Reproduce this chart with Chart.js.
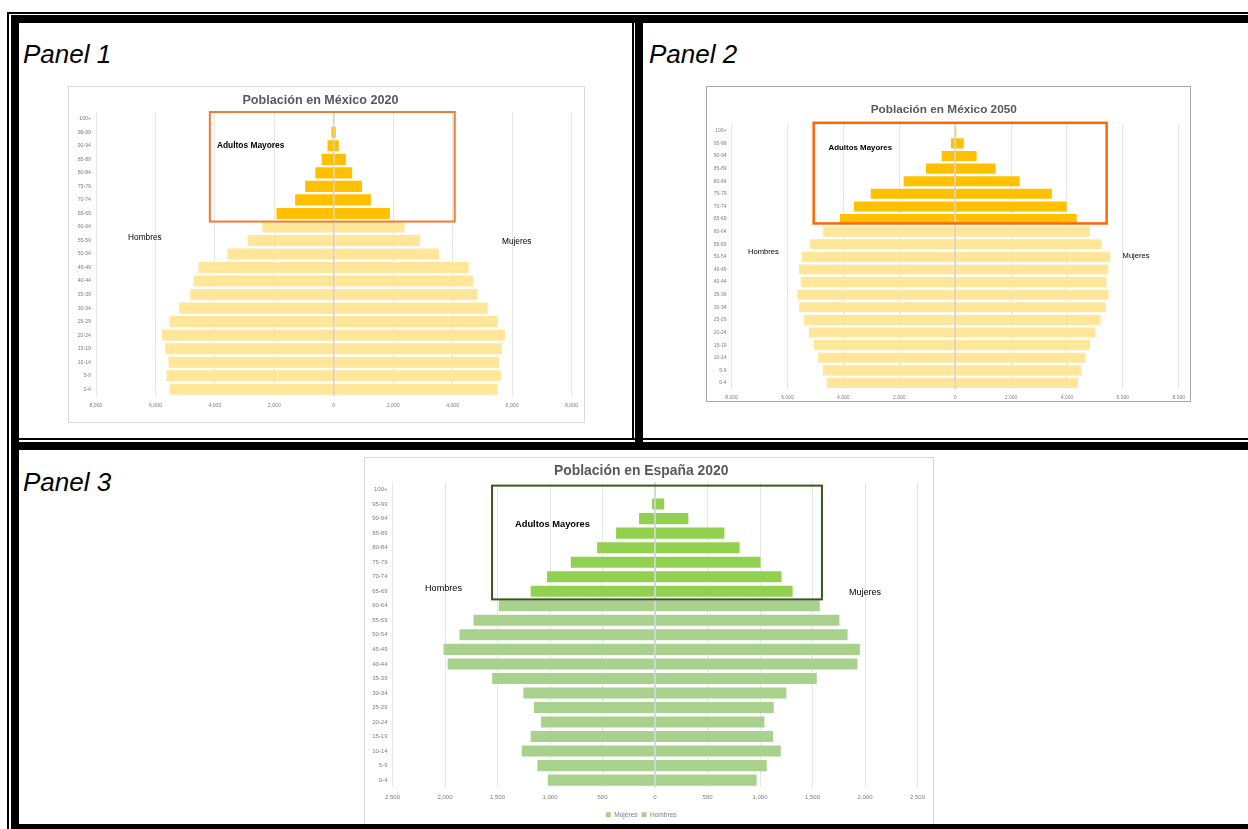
<!DOCTYPE html>
<html lang="es">
<head>
<meta charset="UTF-8">
<title>Pirámides de población</title>
<script src="https://cdn.jsdelivr.net/npm/chart.js"></script>
<style>
  body { margin: 0; background: #fff; width: 1248px; height: 829px; overflow: hidden; position: relative;
         font-family: 'Liberation Sans', Arial, sans-serif; }
  .ln { position: absolute; background: #000; z-index: 5; }
  .etiqueta { position: absolute; font-style: italic; font-size: 26px; line-height: 26px; color: #000; }
  .caja { position: absolute; border: 1px solid #d9d9d9; background: #fff; }
  .caja canvas { display: block; }
</style>
</head>
<body>
  <!-- marco de la tabla -->
  <div class="ln" style="left:7px;top:12px;width:2px;height:817px"></div>
  <div class="ln" style="left:7px;top:12px;width:1241px;height:2px"></div>
  <div class="ln" style="left:11px;top:15px;width:8px;height:814px"></div>
  <div class="ln" style="left:11px;top:15px;width:1237px;height:8px"></div>
  <div class="ln" style="left:11px;top:824px;width:1237px;height:5px"></div>
  <div class="ln" style="left:632px;top:23px;width:2px;height:417px"></div>
  <div class="ln" style="left:635px;top:23px;width:8px;height:427px"></div>
  <div class="ln" style="left:19px;top:438px;width:1229px;height:2px"></div>
  <div class="ln" style="left:11px;top:442px;width:1237px;height:8px"></div>

  <div class="etiqueta" style="left:23px;top:41px">Panel 1</div>
  <div class="etiqueta" style="left:649px;top:41px">Panel 2</div>
  <div class="etiqueta" style="left:23px;top:469px">Panel 3</div>

  <div class="caja" style="left:68px;top:86px;width:515px;height:335px"><canvas id="mx2020" width="515" height="335"></canvas></div>
  <div class="caja" style="left:706px;top:86px;width:483px;height:314px;border-color:#a6a6a6"><canvas id="mx2050" width="483" height="314"></canvas></div>
  <div class="caja" style="left:364px;top:457px;width:568px;height:373px"><canvas id="es2020" width="568" height="373"></canvas></div>

<script>
  const ageGroups = ['0-4', '5-9', '10-14', '15-19', '20-24', '25-29', '30-34', '35-39', '40-44', '45-49',
    '50-54', '55-59', '60-64', '65-69', '70-74', '75-79', '80-84', '85-89', '90-94', '95-99', '100+'];

  // miles de personas
  const mexico2020Hombres = [5520, 5630, 5560, 5670, 5780, 5520, 5200, 4830, 4720, 4550, 3580, 2900, 2400, 1930, 1300, 960, 620, 410, 210, 80, 10];
  const mexico2020Mujeres = [5510, 5620, 5560, 5660, 5760, 5520, 5180, 4830, 4690, 4540, 3540, 2900, 2380, 1890, 1250, 950, 620, 410, 170, 70, 10];

  const mexico2050Hombres = [4590, 4730, 4900, 5050, 5230, 5410, 5580, 5640, 5520, 5590, 5490, 5200, 4720, 4120, 3620, 3020, 1840, 1050, 480, 150, 30];
  const mexico2050Mujeres = [4390, 4520, 4660, 4820, 5020, 5210, 5390, 5490, 5420, 5480, 5550, 5240, 4820, 4350, 3990, 3460, 2310, 1450, 770, 310, 60];

  const espana2020Hombres = [1021, 1120, 1269, 1184, 1085, 1152, 1254, 1551, 1975, 2014, 1862, 1728, 1488, 1184, 1028, 802, 551, 371, 152, 28, 3];
  const espana2020Mujeres = [968, 1064, 1198, 1124, 1042, 1131, 1251, 1541, 1929, 1951, 1834, 1756, 1569, 1311, 1205, 1004, 806, 661, 318, 88, 7];

  // grupos de "Adultos Mayores" (65-69 a 95-99)
  const mayoresDesde = 13, mayoresHasta = 19;

  Chart.defaults.font.family = "'Liberation Sans', Arial, sans-serif";

  function colores(claro, oscuro) {
    return ageGroups.map((g, i) => (i >= mayoresDesde && i <= mayoresHasta) ? oscuro : claro);
  }

  // linea del cero, recuadro y textos sueltos
  const notas = {
    id: 'notas',
    afterDatasetsDraw(chart, args, o) {
      const ctx = chart.ctx, xs = chart.scales.x, ys = chart.scales.y, area = chart.chartArea;
      ctx.save();
      const x0 = xs.getPixelForValue(0);
      ctx.strokeStyle = '#d0d0d0';
      ctx.lineWidth = 1.5;
      ctx.beginPath();
      ctx.moveTo(x0, area.top);
      ctx.lineTo(x0, area.bottom);
      ctx.stroke();

      const r = o.rect;
      const l = xs.getPixelForValue(r.x0), rr = xs.getPixelForValue(r.x1);
      const t = ys.getPixelForValue(r.y0), b = ys.getPixelForValue(r.y1);
      ctx.strokeStyle = r.color;
      ctx.lineWidth = r.width;
      ctx.strokeRect(l, t, rr - l, b - t);

      ctx.textAlign = 'left';
      ctx.textBaseline = 'middle';
      o.texts.forEach(tx => {
        ctx.font = (tx.bold ? 'bold ' : '') + tx.size + "px 'Liberation Sans', Arial, sans-serif";
        ctx.fillStyle = '#000';
        ctx.fillText(tx.text, xs.getPixelForValue(tx.x), ys.getPixelForValue(tx.y));
      });
      ctx.restore();
    }
  };

  function piramide(id, c) {
    return new Chart(document.getElementById(id), {
      type: 'bar',
      data: {
        labels: ageGroups,
        datasets: [
          { label: 'Mujeres', data: c.mujeres, backgroundColor: c.colors, borderWidth: 0,
            barPercentage: 1, categoryPercentage: c.cat },
          { label: 'Hombres', data: c.hombres.map(v => -v), backgroundColor: c.colors, borderWidth: 0,
            barPercentage: 1, categoryPercentage: c.cat }
        ]
      },
      options: {
        indexAxis: 'y',
        responsive: false,
        animation: false,
        layout: { padding: { left: 0, right: c.padRight, top: 0, bottom: c.padBottom } },
        scales: {
          x: {
            stacked: true,
            min: -c.max, max: c.max,
            ticks: { stepSize: c.step, maxRotation: 0, padding: c.xPad, color: '#7f7f7f',
              font: { size: c.tick }, callback: v => Math.abs(v).toLocaleString('en-US') },
            grid: { color: '#e6e6e6', drawTicks: false },
            border: { display: false },
            afterFit: s => { s.height = c.xHeight; }
          },
          y: {
            stacked: true,
            reverse: true,
            ticks: { autoSkip: false, padding: 5, color: '#7f7f7f', font: { size: c.tick } },
            grid: { display: false, drawTicks: false },
            border: { display: false },
            afterFit: s => { s.width = c.yWidth; }
          }
        },
        plugins: {
          title: { display: true, text: c.title, color: '#595959',
            font: { size: c.titleSize, weight: 'bold' }, padding: c.titlePad },
          legend: c.legend ? {
            display: true, position: 'bottom',
            labels: { boxWidth: 5, boxHeight: 5, padding: 4, color: '#7f7f7f', font: { size: 6.6 } }
          } : { display: false },
          tooltip: { enabled: false },
          notas: c.notas
        }
      },
      plugins: [notas]
    });
  }

  piramide('mx2020', {
    title: 'Población en México 2020', titleSize: 12.6, titlePad: { top: 6.2, bottom: 3.7 },
    hombres: mexico2020Hombres, mujeres: mexico2020Mujeres, colors: colores('#FFE699', '#FFC000'),
    max: 8000, step: 2000, tick: 5.2, cat: 0.82,
    yWidth: 27, padRight: 12, xHeight: 16, xPad: 6, padBottom: 10,
    notas: {
      rect: { x0: -4170, x1: 4070, y0: 20.5, y1: 12.4, color: '#ED7D31', width: 2 },
      texts: [
        { text: 'Adultos Mayores', x: -3930, y: 18.0, size: 8.4, bold: true },
        { text: 'Hombres', x: -6920, y: 11.2, size: 8.3 },
        { text: 'Mujeres', x: 5660, y: 10.9, size: 8.3 }
      ]
    }
  });

  piramide('mx2050', {
    title: 'Población en México 2050', titleSize: 11.8, titlePad: { top: 15.7, bottom: 7.6 },
    hombres: mexico2050Hombres, mujeres: mexico2050Mujeres, colors: colores('#FFE699', '#FFC000'),
    max: 8000, step: 2000, tick: 5, cat: 0.8,
    yWidth: 24.5, padRight: 9.5, xHeight: 10, xPad: 5, padBottom: 1.7,
    notas: {
      rect: { x0: -5060, x1: 5420, y0: 20.63, y1: 12.65, color: '#FF6600', width: 2.5 },
      texts: [
        { text: 'Adultos Mayores', x: -4530, y: 18.66, size: 7.9, bold: true },
        { text: 'Hombres', x: -7410, y: 10.36, size: 7.6 },
        { text: 'Mujeres', x: 5990, y: 10.04, size: 7.6 }
      ]
    }
  });

  piramide('es2020', {
    title: 'Población en España 2020', titleSize: 13.9, titlePad: { top: 4.6, bottom: 3 },
    hombres: espana2020Hombres, mujeres: espana2020Mujeres, colors: colores('#A9D18E', '#92D050'),
    max: 2500, step: 500, tick: 6, cat: 0.76, legend: true,
    yWidth: 27.5, padRight: 15.5, xHeight: 20, xPad: 6, padBottom: 3,
    notas: {
      rect: { x0: -1552, x1: 1590, y0: 20.27, y1: 12.44, color: '#385723', width: 2 },
      texts: [
        { text: 'Adultos Mayores', x: -1333, y: 17.6, size: 9.3, bold: true },
        { text: 'Hombres', x: -2190, y: 13.2, size: 9.1 },
        { text: 'Mujeres', x: 1848, y: 12.9, size: 9 }
      ]
    }
  });
</script>
</body>
</html>
